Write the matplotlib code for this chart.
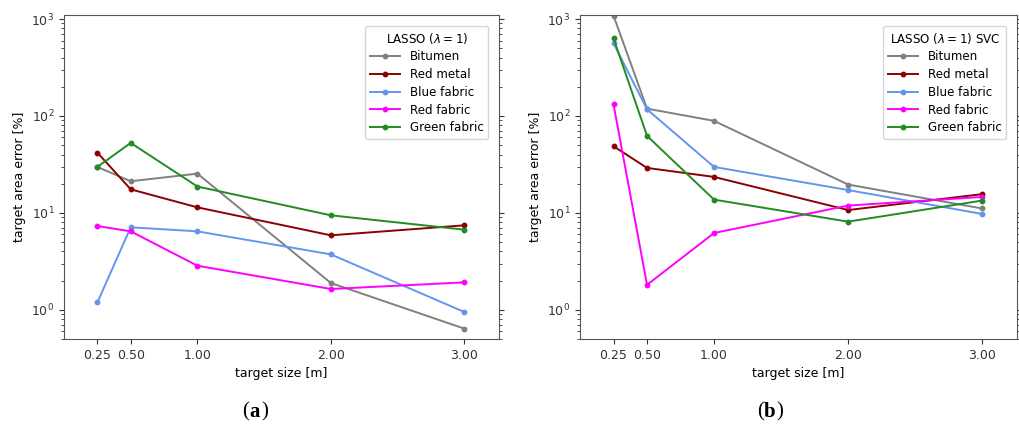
import numpy as np
import matplotlib
matplotlib.use('Agg')
import matplotlib.pyplot as plt
from matplotlib.transforms import offset_copy

plt.rcParams['font.size'] = 9
plt.rcParams['mathtext.fontset'] = 'dejavusans'

# Target sizes (m)
sizes = [0.25, 0.5, 1.0, 2.0, 3.0]
materials = ['Bitumen', 'Red metal', 'Blue fabric', 'Red fabric', 'Green fabric']
colors = ['gray', 'darkred', 'cornflowerblue', 'magenta', 'forestgreen']

# Area error [%], LASSO (lambda = 1)
lasso_bitumen = [29.8, 21.2, 25.4, 1.89, 0.64]
lasso_red_metal = [41.9, 17.5, 11.4, 5.87, 7.44]
lasso_blue_fabric = [1.19, 7.1, 6.45, 3.73, 0.95]
lasso_red_fabric = [7.32, 6.45, 2.85, 1.64, 1.92]
lasso_green_fabric = [29.8, 52.7, 18.7, 9.44, 6.71]

# Area error [%], LASSO (lambda = 1) + SVC
svc_bitumen = [1083, 119, 89, 19.6, 11.1]
svc_red_metal = [48.7, 29.1, 23.5, 10.7, 15.6]
svc_blue_fabric = [561, 117, 29.8, 17.2, 9.75]
svc_red_fabric = [132, 1.81, 6.2, 11.9, 14.6]
svc_green_fabric = [632, 62.3, 13.7, 8.12, 13.4]

lasso = [lasso_bitumen, lasso_red_metal, lasso_blue_fabric, lasso_red_fabric, lasso_green_fabric]
svc = [svc_bitumen, svc_red_metal, svc_blue_fabric, svc_red_fabric, svc_green_fabric]

fig = plt.figure(figsize=(10.19, 4.25), dpi=100)
W, H = 1019, 425
ax1 = fig.add_axes([64 / W, 1 - 339 / H, 435 / W, 324 / H])
ax2 = fig.add_axes([580 / W, 1 - 339 / H, 437 / W, 324 / H])


def draw_panel(ax, series, title):
    for name, vals, c in zip(materials, series, colors):
        ax.plot(sizes, vals, '-o', color=c, lw=1.4, ms=3.2, label=name)
    ax.set_yscale('log')
    ax.set_ylim(0.5, 1100)
    ax.set_xlim(0.0, 3.26)
    ax.set_xticks(sizes)
    ax.set_xticklabels(['%.2f' % s for s in sizes])
    ax.set_xlabel('target size [m]')
    ax.set_ylabel('target area error [%]')
    ax.yaxis.set_ticks_position('both')
    for sp in ax.spines.values():
        sp.set_color('#555555')
    ax.tick_params(colors='#333333', which='both')
    leg = ax.legend(title=title, loc='upper right', fontsize=8.6,
                    title_fontsize=8.6, handlelength=2.5, borderaxespad=0.9,
                    labelspacing=0.4)
    leg.get_frame().set_edgecolor('#cccccc')


draw_panel(ax1, lasso, r'LASSO ($\lambda = 1$)')
draw_panel(ax2, svc, r'LASSO ($\lambda = 1$) SVC')


# Sub-figure captions: regular parentheses around a bold letter
def caption(xc, letter):
    y = 1 - 412 / H
    kw = dict(va='center', fontsize=15, family='Liberation Serif')
    fig.text(xc / W, y, letter, ha='center', fontweight='bold', **kw)
    half = 6 if letter == 'a' else 6.5
    fig.text(xc / W, y, '(', ha='right',
             transform=offset_copy(fig.transFigure, fig=fig, x=-half, y=0, units='dots'), **kw)
    fig.text(xc / W, y, ')', ha='left',
             transform=offset_copy(fig.transFigure, fig=fig, x=half, y=0, units='dots'), **kw)


caption(255, 'a')
caption(770, 'b')

fig.savefig('out.png', dpi=100)
